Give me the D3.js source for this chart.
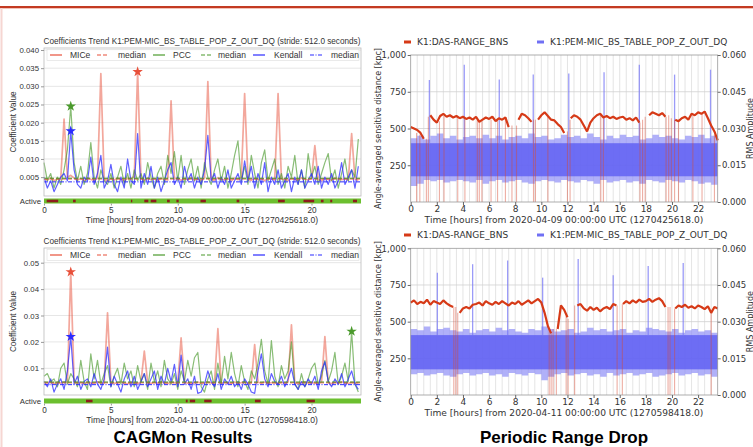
<!DOCTYPE html>
<meta charset="utf-8">
<style>
body { margin: 0; background: #fff; }
svg { display: block; }
.coef text { font-family: "Liberation Sans", Arial, sans-serif; fill: #333; }
.range text { font-family: "DejaVu Sans", sans-serif; fill: #333; }
.caption { font-family: "Liberation Sans", Arial, sans-serif; font-weight: bold; font-size: 17px; fill: #000; }
</style>

<svg width="753" height="447"></svg>

<script src="https://cdn.jsdelivr.net/npm/d3@7/dist/d3.min.js"></script>
<script>

const svg = d3.select("svg")

//sample times (hours), one value every 0.25 h for the coefficient and range curves
const hours = d3.range(95).map(i => i * 0.25)
//rms band is read every 0.5 h
const halfHours = d3.range(48).map(i => i * 0.5)

/////////////////////////////////////////////////
//CAGMon coefficients, 2020-04-09
const mice09 = [
  0.0045,0.0042,0.0048,0.0040,0.0046,0.0043,0.021,0.0050,0.0055,0.0047,
  0.0042,0.0046,0.0040,0.0048,0.0044,0.0041,0.0047,0.0335,0.0043,0.0039,
  0.0046,0.0042,0.0048,0.0044,0.0040,0.0047,0.0045,0.0052,0.034,0.0046,
  0.0041,0.0048,0.0043,0.0046,0.0040,0.0047,0.0044,0.0042,0.026,0.0045,
  0.0048,0.0041,0.0046,0.0043,0.0049,0.0042,0.0045,0.0040,0.0047,0.0313,
  0.0044,0.0041,0.0048,0.0045,0.0042,0.0046,0.0040,0.0047,0.0043,0.0049,
  0.028,0.0044,0.0041,0.0047,0.0043,0.0046,0.0040,0.0048,0.0045,0.0042,
  0.028,0.0046,0.0043,0.0040,0.0047,0.0044,0.0041,0.0048,0.0045,0.0042,
  0.0046,0.0137,0.0043,0.0040,0.0047,0.0044,0.0041,0.0048,0.0045,0.0043,
  0.0046,0.0042,0.017,0.0045,0.0041]
const pcc09 = [
  0.009,0.004,0.006,0.002,0.005,0.003,0.007,0.0125,0.0245,0.009,
  0.004,0.008,0.003,0.006,0.0145,0.005,0.002,0.007,0.004,0.003,
  0.006,0.002,0.005,0.008,0.003,0.006,0.002,0.007,0.004,0.006,
  0.003,0.009,0.005,0.002,0.006,0.008,0.003,0.011,0.006,0.012,
  0.004,0.011,0.003,0.007,0.010,0.004,0.008,0.002,0.009,0.005,
  0.003,0.007,0.010,0.004,0.008,0.002,0.006,0.011,0.015,0.004,
  0.008,0.003,0.011,0.006,0.002,0.009,0.0125,0.004,0.007,0.010,
  0.003,0.006,0.002,0.008,0.005,0.011,0.003,0.007,0.002,0.0115,
  0.005,0.008,0.003,0.006,0.009,0.0115,0.004,0.007,0.002,0.006,
  0.010,0.004,0.007,0.005,0.0155]
const kendall09 = [
  0.005,0.002,0.004,0.001,0.003,0.005,0.006,0.004,0.0177,0.007,
  0.003,0.002,0.005,0.004,0.0105,0.003,0.006,0.011,0.002,0.004,
  0.0085,0.003,0.001,0.005,0.002,0.010,0.004,0.003,0.017,0.002,
  0.006,0.003,0.008,0.002,0.005,0.001,0.004,0.007,0.009,0.003,
  0.005,0.002,0.008,0.004,0.006,0.002,0.005,0.003,0.007,0.0165,
  0.004,0.006,0.002,0.005,0.003,0.007,0.002,0.004,0.006,0.003,
  0.0095,0.004,0.008,0.002,0.006,0.003,0.009,0.001,0.005,0.003,
  0.007,0.002,0.004,0.006,0.001,0.005,0.003,0.007,0.002,0.004,
  0.006,0.003,0.008,0.002,0.005,0.003,0.006,0.002,0.004,0.009,
  0.003,0.005,0.007,0.002,0.008]
const medians09 = [0.0045, 0.0047, 0.0037]   //MICe, PCC, Kendall
const inactive09 = [[0.2,1.06],[2.17,2.37],[6.5,6.6],[7.5,7.8],[7.98,8.4],[9.2,9.4],[9.9,10.07],
  [11.7,12.1],[14.4,14.6],[17.5,18.0],[19.4,20.2],[20.7,20.9],[21.4,21.55],[23.1,23.4]]
const coefTicks09 = [0.005,0.010,0.015,0.020,0.025,0.030,0.035,0.040]

//CAGMon coefficients, 2020-04-11
const mice11 = [
  0.0048,0.0045,0.0050,0.0042,0.0047,0.0044,0.0049,0.0046,0.0465,0.0050,
  0.0044,0.0047,0.0042,0.0048,0.0045,0.0043,0.0049,0.0046,0.0044,0.031,
  0.0047,0.0043,0.0046,0.0049,0.0044,0.0041,0.0047,0.0045,0.0042,0.0048,
  0.0165,0.0046,0.0043,0.0047,0.0044,0.0049,0.0045,0.0042,0.0048,0.0046,
  0.0043,0.0215,0.0047,0.0044,0.0041,0.0046,0.0048,0.0043,0.0045,0.0049,
  0.0044,0.0046,0.025,0.0043,0.0047,0.0045,0.0042,0.0048,0.0044,0.0046,
  0.0049,0.0043,0.0045,0.019,0.0047,0.0044,0.0048,0.0042,0.0046,0.0045,
  0.0043,0.0047,0.0044,0.0048,0.0265,0.0045,0.0042,0.0046,0.0049,0.0044,
  0.0047,0.0043,0.0045,0.0048,0.022,0.0046,0.0042,0.0047,0.0044,0.0049,
  0.0045,0.0043,0.0047,0.0044,0.0046]
const pcc11 = [
  0.007,0.008,0.005,0.006,0.003,0.010,0.012,0.004,0.008,0.006,
  0.003,0.013,0.005,0.002,0.0155,0.006,0.013,0.004,0.008,0.011,
  0.003,0.007,0.010,0.004,0.012,0.006,0.009,0.003,0.011,0.005,
  0.008,0.002,0.012,0.005,0.009,0.003,0.013,0.006,0.004,0.008,
  0.002,0.009,0.005,0.013,0.007,0.014,0.016,0.003,0.001,0.006,
  0.009,0.002,0.012,0.004,0.0145,0.006,0.016,0.008,0.003,0.011,
  0.005,0.002,0.009,0.006,0.012,0.021,0.009,0.004,0.0205,0.007,
  0.003,0.011,0.006,0.009,0.020,0.004,0.002,0.008,0.003,0.006,
  0.010,0.012,0.004,0.007,0.013,0.005,0.009,0.016,0.004,0.007,
  0.012,0.005,0.024,0.004,0.001]
const kendall11 = [
  0.005,0.003,0.006,0.001,0.004,0.006,0.002,0.009,0.022,0.004,
  0.007,0.002,0.005,0.006,0.003,0.008,0.004,0.002,0.006,0.018,
  0.003,0.007,0.004,0.001,0.006,0.009,0.003,0.007,0.002,0.005,
  0.008,0.003,0.006,0.009,0.002,0.007,0.004,0.010,0.005,0.0115,
  0.003,0.015,0.004,0.006,0.002,0.007,0.0005,0.001,0.004,0.009,
  0.005,0.003,0.008,0.002,0.006,0.004,0.007,0.003,0.005,0.002,
  0.006,0.004,0.001,0.0005,0.009,0.0155,0.006,0.003,0.008,0.005,
  0.004,0.007,0.003,0.006,0.010,0.004,0.002,0.005,0.003,0.006,
  0.004,0.007,0.002,0.009,0.0125,0.005,0.003,0.006,0.004,0.008,
  0.003,0.006,0.009,0.004,0.002]
const medians11 = [0.0045, 0.0048, 0.0038]
const inactive11 = [[3.14,3.63],[10.6,10.74],[10.9,11.3],[11.98,12.53],[15.77,16.2],[19.63,20.25]]
const coefTicks11 = [0.01,0.02,0.03,0.04,0.05]

/////////////////////////////////////////////////
//BNS range [kpc] (null = no lock), 2020-04-09
const range09 = [
  510,500,490,470,430,null,590,560,540,585,
  600,580,590,575,585,570,580,565,575,560,
  580,545,560,575,565,580,550,570,560,575,
  510,null,null,560,600,590,570,545,null,560,
  590,610,585,560,555,530,510,470,null,570,
  590,580,560,520,480,540,570,590,600,575,
  585,570,580,565,575,580,560,570,555,575,
  540,null,null,590,610,600,590,605,580,null,
  null,560,550,570,580,560,600,590,610,600,
  615,570,520,480,420]
//[hour, kpc at top of the drop]
const drops09 = [[0.45,470],[0.7,460],[1.2,430],[1.35,580],[2.2,550],[2.55,590],[3.6,580],[4.15,570],
  [5.1,570],[5.25,560],[5.45,550],[6.15,560],[6.65,560],[7.25,560],[7.75,520],[8.1,520],[9.4,560],
  [9.55,560],[10.5,580],[12.0,480],[12.2,560],[14.55,600],[14.75,580],[17.55,540],[17.75,560],
  [17.95,580],[19.55,580],[19.75,590],[19.95,570],[20.2,560],[20.5,560],[21.6,590],[22.3,600],[23.25,460]]
//RMS amplitude envelope
const rmsLo09 = [
  0.0065,0.0075,0.009,0.0085,0.009,0.008,0.0085,0.009,0.0085,0.008,
  0.009,0.0075,0.0085,0.009,0.008,0.0085,0.009,0.008,0.0075,0.0085,
  0.009,0.0085,0.008,0.009,0.0085,0.008,0.009,0.0085,0.0075,0.009,
  0.008,0.0085,0.009,0.008,0.0085,0.0075,0.009,0.0085,0.008,0.009,
  0.0085,0.008,0.009,0.0085,0.0075,0.008,0.007,0.0075]
const rmsHi09 = [
  0.026,0.027,0.0255,0.027,0.028,0.026,0.027,0.0255,0.0265,0.027,
  0.026,0.0275,0.026,0.027,0.0255,0.0265,0.027,0.026,0.028,0.0265,
  0.027,0.0255,0.026,0.0275,0.0265,0.027,0.026,0.028,0.0265,0.0255,
  0.027,0.026,0.0275,0.0265,0.027,0.0255,0.026,0.0275,0.0265,0.027,
  0.026,0.0255,0.027,0.0265,0.0275,0.026,0.027,0.0265]
const rmsCore09 = [0.0105, 0.024]
const rmsSpikes09 = [[1.43,0.0498],[4.1,0.056],[6.78,0.050],[9.38,0.052],[12.1,0.0525],
  [14.8,0.053],[17.5,0.056],[20.2,0.052],[22.95,0.054]]

//BNS range, 2020-04-11
const range11 = [
  630,645,620,635,625,650,615,640,630,620,
  645,625,610,600,null,560,590,600,590,615,
  620,630,610,640,625,615,635,620,640,625,
  610,630,620,640,615,630,645,625,640,655,
  630,560,470,420,null,450,610,580,530,null,
  null,610,620,590,575,600,580,595,570,590,
  600,585,620,610,null,620,640,625,645,630,
  650,635,640,655,635,650,660,640,600,null,
  null,590,610,600,615,595,605,590,610,600,
  585,605,560,600,590]
const drops11 = [[3.3,600],[3.45,600],[3.6,560],[10.6,450],[10.75,420],[10.9,450],[11.15,450],
  [11.9,540],[12.05,520],[12.55,610],[15.8,610],[16.2,620],[19.7,600],[19.85,600],[20.2,590],[23.0,560]]
const rmsLo11 = [
  0.0085,0.009,0.008,0.0085,0.009,0.008,0.0075,0.0085,0.009,0.008,
  0.0085,0.009,0.008,0.0085,0.0075,0.009,0.0085,0.008,0.009,0.0085,
  0.006,0.0075,0.0085,0.009,0.008,0.0085,0.009,0.008,0.0085,0.0075,
  0.009,0.008,0.0085,0.009,0.008,0.0085,0.009,0.0075,0.008,0.0085,
  0.009,0.008,0.0085,0.009,0.008,0.0085,0.0075,0.008]
const rmsHi11 = [
  0.027,0.0265,0.028,0.026,0.027,0.0275,0.0265,0.026,0.027,0.0255,
  0.0265,0.027,0.026,0.0275,0.0265,0.027,0.026,0.0255,0.027,0.0265,
  0.028,0.027,0.026,0.0265,0.027,0.0255,0.026,0.0275,0.0265,0.027,
  0.026,0.0265,0.027,0.0255,0.0265,0.026,0.0275,0.027,0.0265,0.026,
  0.027,0.0255,0.0265,0.027,0.026,0.0265,0.0255,0.026]
const rmsCore11 = [0.0105, 0.0245]
const rmsSpikes11 = [[2.04,0.050],[4.74,0.0535],[7.42,0.055],[10.1,0.048],[12.82,0.0556],
  [15.5,0.049],[18.18,0.0528],[20.86,0.054]]

const rangeTicks = [250, 500, 750, 1000]
const rmsTicks = [0, 0.015, 0.030, 0.045, 0.060]
const hourTicksCoef = [0, 5, 10, 15, 20]
const hourTicksRange = [0, 2, 4, 6, 8, 10, 12, 14, 16, 18, 20, 22]

const coefTitle = "Coefficients Trend K1:PEM-MIC_BS_TABLE_POP_Z_OUT_DQ (stride: 512.0 seconds)"
const coefLegend = ["MICe", "median", "PCC", "median", "Kendall", "median"]
const rangeLegend = ["K1:DAS-RANGE_BNS", "K1:PEM-MIC_BS_TABLE_POP_Z_OUT_DQ"]

/////////////////////////////////////////////////
//slide decoration
svg.append("line").attr("x1", 0).attr("x2", 753).attr("y1", 7).attr("y2", 7)
    .attr("stroke", "#c33a22").attr("stroke-width", 2)
svg.append("line").attr("x1", 0).attr("x2", 753).attr("y1", 8.5).attr("y2", 8.5)
    .attr("stroke", "#f3c2b8").attr("stroke-width", 1)
svg.append("line").attr("x1", 1.5).attr("x2", 1.5).attr("y1", 8).attr("y2", 447)
    .attr("stroke", "#f6d6d2").attr("stroke-width", 2)

const red = "#e8503a", green = "#4a9a2c", blue = "#2b2bff"

/////////////////////////////////////////////////
//left panels
function drawCoef(p) {
  const g = svg.append("g").attr("class", "coef")
  const x = d3.scaleLinear().domain([0, 23.7]).range([44, 361])
  const y = d3.scaleLinear().domain([0, p.maxTick]).range([p.zeroPx, p.maxTickPx])

  //grid
  g.append("g").selectAll("line").data(p.ticks).join("line")
      .attr("x1", 44).attr("x2", 361)
      .attr("y1", d => y(d)).attr("y2", d => y(d))
      .attr("stroke", "#e6e6e6")

  const line = d3.line().x((d, i) => x(hours[i])).y(d => y(d))
  const series = [
    {vals: p.mice, color: red, op: 0.5, w: 1.7, med: p.medians[0], dash: "4,2"},
    {vals: p.pcc, color: green, op: 0.65, w: 1.2, med: p.medians[1], dash: "4,2"},
    {vals: p.kendall, color: blue, op: 0.75, w: 1.2, med: p.medians[2], dash: "4,1.5,1,1.5"}
  ]
  series.forEach(s => {
    g.append("path").attr("d", line(s.vals))
        .attr("fill", "none").attr("stroke", s.color)
        .attr("stroke-opacity", s.op).attr("stroke-width", s.w)
        .attr("stroke-linejoin", "round")
  })
  series.forEach(s => {
    g.append("line").attr("x1", 44).attr("x2", 361)
        .attr("y1", y(s.med)).attr("y2", y(s.med))
        .attr("stroke", s.color).attr("stroke-width", 1).attr("stroke-dasharray", s.dash)
  })
  //stars at each maximum
  series.forEach(s => {
    const i = d3.maxIndex(s.vals)
    g.append("path").attr("d", d3.symbol(d3.symbolStar, 34)())
        .attr("transform", `translate(${x(hours[i])},${y(s.vals[i])})`)
        .attr("fill", s.color)
  })

  //frame
  g.append("rect").attr("x", 44).attr("y", p.top).attr("width", 317).attr("height", p.bottom - p.top)
      .attr("fill", "none").attr("stroke", "#bbb").attr("stroke-width", 0.8)

  //legend
  const lg = g.append("g")
  lg.append("rect").attr("x", 47).attr("y", p.top + 1.5).attr("width", 312).attr("height", 11)
      .attr("fill", "#fff").attr("fill-opacity", 0.85).attr("stroke", "#ddd").attr("stroke-width", 0.6)
  const legX = [50, 97, 153, 201, 253, 310], legTx = [70, 118, 173, 218, 274, 331]
  coefLegend.forEach((t, i) => {
    const s = series[Math.floor(i / 2)]
    lg.append("line").attr("x1", legX[i]).attr("x2", legX[i] + 12)
        .attr("y1", p.top + 7).attr("y2", p.top + 7)
        .attr("stroke", s.color).attr("stroke-width", 1.2)
        .attr("stroke-dasharray", i % 2 ? s.dash : null)
    lg.append("text").attr("x", legTx[i]).attr("y", p.top + 10)
        .attr("font-size", 8.5).text(t)
  })

  //y axis
  g.append("g").attr("transform", "translate(44,0)")
      .call(d3.axisLeft(y).tickValues(p.ticks).tickFormat(p.fmt).tickSize(3).tickPadding(2))
      .call(a => a.select(".domain").remove())
      .call(a => a.selectAll("line").attr("stroke", "#999"))
      .call(a => a.selectAll("text").attr("font-size", 7.8))

  //active segment bar
  g.append("rect").attr("x", x(0)).attr("y", p.activeY).attr("width", x(23.7) - x(0)).attr("height", 5)
      .attr("fill", "#6cbf2f")
  g.append("g").selectAll("rect").data(p.inactive).join("rect")
      .attr("x", d => x(d[0])).attr("width", d => x(d[1]) - x(d[0]))
      .attr("y", p.activeY + 1.2).attr("height", 2.6)
      .attr("fill", "#8e1c1c")
  g.append("text").attr("x", 41).attr("y", p.activeY + 5).attr("text-anchor", "end")
      .attr("font-size", 7.8).text("Active")

  //x axis
  g.append("g").attr("transform", `translate(0,${p.activeY + 5})`)
      .call(d3.axisBottom(x).tickValues(hourTicksCoef).tickSize(2).tickPadding(2))
      .call(a => a.select(".domain").remove())
      .call(a => a.selectAll("line").attr("stroke", "#999"))
      .call(a => a.selectAll("text").attr("font-size", 8.2))
  g.append("text").attr("x", 202).attr("y", p.activeY + 24).attr("text-anchor", "middle")
      .attr("font-size", 8.6).text(`Time [hours] from ${p.date}`)

  g.append("text").attr("x", 202).attr("y", p.top - 4).attr("text-anchor", "middle")
      .attr("font-size", 8.2).text(coefTitle)
  g.append("text").attr("transform", `translate(16,${(p.top + p.bottom) / 2}) rotate(-90)`)
      .attr("text-anchor", "middle").attr("font-size", 8.2).text("Coefficient Value")
}

/////////////////////////////////////////////////
//right panels
function drawRange(p) {
  const g = svg.append("g").attr("class", "range")
  const x = d3.scaleLinear().domain([0, 23.5]).range([410.7, 717.7])
  const yL = d3.scaleLinear().domain([0, 1000]).range([p.bottom, p.top])
  const yR = d3.scaleLinear().domain([0, 0.06]).range([p.bottom, p.top])

  //grid: every half hour, and the range ticks
  g.append("g").selectAll("line").data(d3.range(0.5, 23.5, 0.5)).join("line")
      .attr("x1", d => x(d)).attr("x2", d => x(d)).attr("y1", p.top).attr("y2", p.bottom)
      .attr("stroke", "#d9d9d9").attr("stroke-width", 0.7)
  g.append("g").selectAll("line").data(rangeTicks.slice(0, 3)).join("line")
      .attr("x1", x(0)).attr("x2", x(23.5)).attr("y1", d => yL(d)).attr("y2", d => yL(d))
      .attr("stroke", "#d0d0d0").attr("stroke-width", 0.8)

  //rms band
  const env = p.rmsLo.map((d, i) => [d, p.rmsHi[i]])
  env.push(env[env.length - 1])
  const halfHoursEnd = halfHours.concat([23.5])
  const band = d3.area().curve(d3.curveStepAfter)
      .x((d, i) => x(halfHoursEnd[i])).y0(d => yR(d[0])).y1(d => yR(d[1]))
  g.append("path").attr("d", band(env)).attr("fill", "#8e8ef7").attr("fill-opacity", 0.7)
  g.append("rect").attr("x", x(0)).attr("width", x(23.5) - x(0))
      .attr("y", yR(p.rmsCore[1])).attr("height", yR(p.rmsCore[0]) - yR(p.rmsCore[1]))
      .attr("fill", "#5c5cf2").attr("fill-opacity", 0.8)
  g.append("g").selectAll("line").data(p.spikes).join("line")
      .attr("x1", d => x(d[0])).attr("x2", d => x(d[0]))
      .attr("y1", yR(p.rmsCore[1])).attr("y2", d => yR(d[1]))
      .attr("stroke", "#7a7af6").attr("stroke-width", 1.3).attr("stroke-opacity", 0.75)

  //range drops and range curve
  g.append("g").selectAll("line").data(p.drops).join("line")
      .attr("x1", d => x(d[0])).attr("x2", d => x(d[0]))
      .attr("y1", yL(0)).attr("y2", d => yL(d[1]))
      .attr("stroke", "#d84a30").attr("stroke-width", 1.1).attr("stroke-opacity", 0.45)
  const line = d3.line().defined(d => d != null)
      .x((d, i) => x(hours[i])).y(d => yL(d))
  g.append("path").attr("d", line(p.range))
      .attr("fill", "none").attr("stroke", "#d63a17").attr("stroke-width", 2.2)
      .attr("stroke-linejoin", "bevel")

  //frame
  g.append("rect").attr("x", x(0)).attr("y", p.top).attr("width", x(23.5) - x(0)).attr("height", p.bottom - p.top)
      .attr("fill", "none").attr("stroke", "#9a9a9a").attr("stroke-width", 0.8)

  //axes
  g.append("g").attr("transform", `translate(${x(0)},0)`)
      .call(d3.axisLeft(yL).tickValues(rangeTicks).tickSize(3).tickPadding(1.5))
      .call(a => a.select(".domain").remove())
      .call(a => a.selectAll("line").attr("stroke", "#666"))
      .call(a => a.selectAll("text").attr("font-size", 8.6))
  g.append("g").attr("transform", `translate(${x(23.5)},0)`)
      .call(d3.axisRight(yR).tickValues(rmsTicks).tickFormat(d3.format(".3f")).tickSize(3).tickPadding(1.2))
      .call(a => a.select(".domain").remove())
      .call(a => a.selectAll("line").attr("stroke", "#666"))
      .call(a => a.selectAll("text").attr("font-size", 8.5))
  g.append("g").attr("transform", `translate(0,${p.bottom})`)
      .call(d3.axisBottom(x).tickValues(hourTicksRange).tickSize(3).tickPadding(1))
      .call(a => a.select(".domain").remove())
      .call(a => a.selectAll("line").attr("stroke", "#666"))
      .call(a => a.selectAll("text").attr("font-size", 9))
  g.append("text").attr("x", 564).attr("y", p.bottom + 21).attr("text-anchor", "middle")
      .attr("font-size", 9.1).text(`Time [hours] from ${p.date}`)

  g.append("text").attr("transform", `translate(381,${(p.top + p.bottom) / 2}) rotate(-90)`)
      .attr("text-anchor", "middle").attr("font-size", 8).text("Angle-averaged sensitive distance [kpc]")
  g.append("text").attr("transform", `translate(752.5,${(p.top + p.bottom) / 2}) rotate(-90)`)
      .attr("text-anchor", "middle").attr("font-size", 8).text("RMS Amplitude")

  //legend
  const hx = [404, 537], tx = [417, 550], hc = ["#d63a17", "#7070f4"]
  rangeLegend.forEach((t, i) => {
    g.append("line").attr("x1", hx[i]).attr("x2", hx[i] + 7)
        .attr("y1", p.legendY).attr("y2", p.legendY)
        .attr("stroke", hc[i]).attr("stroke-width", 3)
    g.append("text").attr("x", tx[i]).attr("y", p.legendY + 3.3)
        .attr("font-size", 9).text(t)
  })
}

drawCoef({top: 48, bottom: 196, zeroPx: 195.3, maxTick: 0.040, maxTickPx: 50,
  ticks: coefTicks09, fmt: d3.format(".3f"), activeY: 198.5,
  mice: mice09, pcc: pcc09, kendall: kendall09, medians: medians09, inactive: inactive09,
  date: "2020-04-09 00:00:00 UTC (1270425618.0)"})
drawCoef({top: 248, bottom: 395, zeroPx: 394.7, maxTick: 0.05, maxTickPx: 262.7,
  ticks: coefTicks11, fmt: d3.format(".2f"), activeY: 398.5,
  mice: mice11, pcc: pcc11, kendall: kendall11, medians: medians11, inactive: inactive11,
  date: "2020-04-11 00:00:00 UTC (1270598418.0)"})

drawRange({top: 55, bottom: 202, legendY: 42, range: range09, drops: drops09,
  rmsLo: rmsLo09, rmsHi: rmsHi09, rmsCore: rmsCore09, spikes: rmsSpikes09,
  date: "2020-04-09 00:00:00 UTC (1270425618.0)"})
drawRange({top: 248.3, bottom: 395, legendY: 235, range: range11, drops: drops11,
  rmsLo: rmsLo11, rmsHi: rmsHi11, rmsCore: rmsCore11, spikes: rmsSpikes11,
  date: "2020-04-11 00:00:00 UTC (1270598418.0)"})

//captions
svg.append("text").attr("class", "caption").attr("x", 183).attr("y", 442.5)
    .attr("text-anchor", "middle").text("CAGMon Results")
svg.append("text").attr("class", "caption").attr("x", 564).attr("y", 442.5)
    .attr("text-anchor", "middle").text("Periodic Range Drop")

</script>
